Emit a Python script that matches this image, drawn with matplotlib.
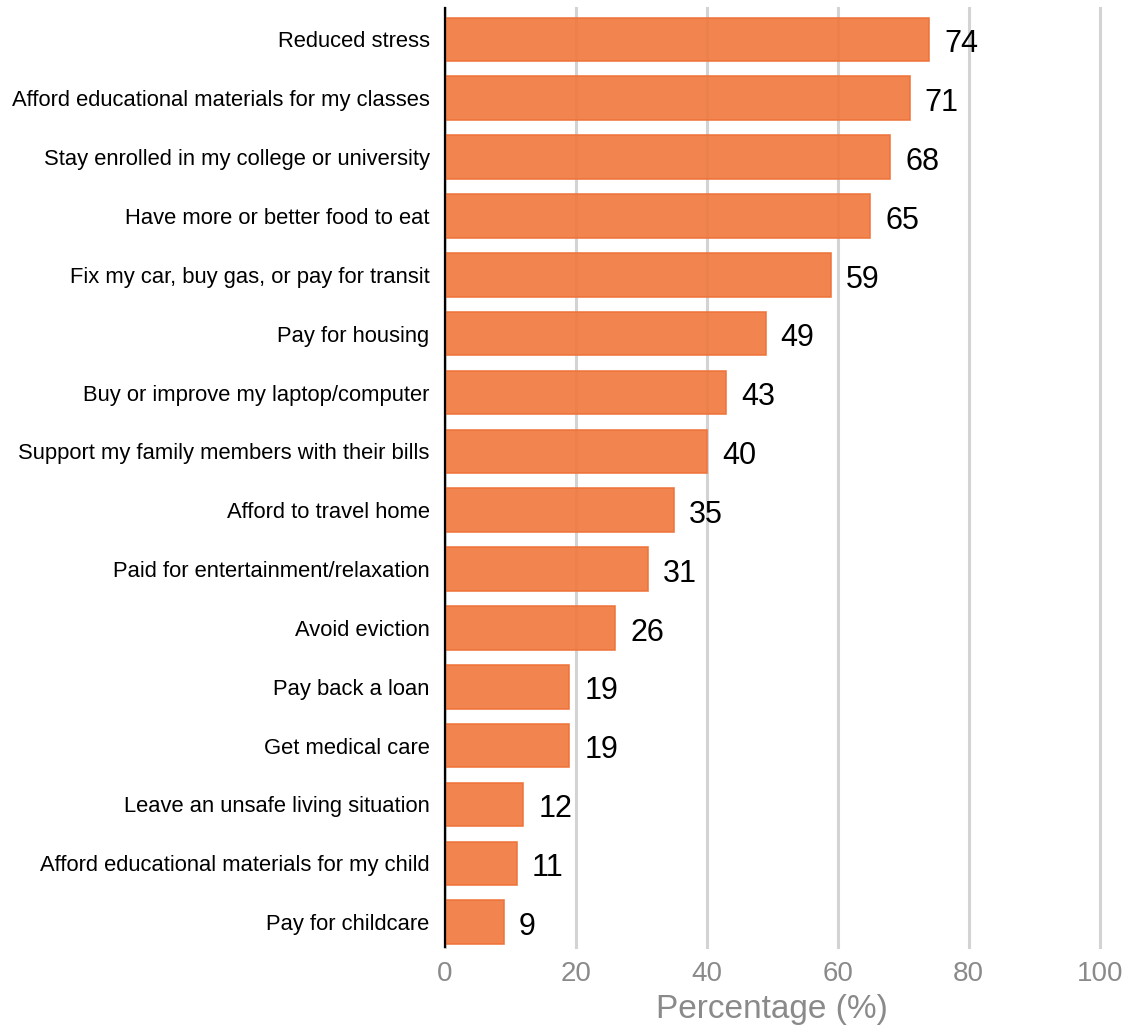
import matplotlib.pyplot as plt

plt.rcParams['font.family'] = ['Liberation Sans', 'DejaVu Sans']

reasons = [
    "Reduced stress",
    "Afford educational materials for my classes",
    "Stay enrolled in my college or university",
    "Have more or better food to eat",
    "Fix my car, buy gas, or pay for transit",
    "Pay for housing",
    "Buy or improve my laptop/computer",
    "Support my family members with their bills",
    "Afford to travel home",
    "Paid for entertainment/relaxation",
    "Avoid eviction",
    "Pay back a loan",
    "Get medical care",
    "Leave an unsafe living situation",
    "Afford educational materials for my child",
    "Pay for childcare",
]
percent = [74, 71, 68, 65, 59, 49, 43, 40, 35, 31, 26, 19, 19, 12, 11, 9]

fig = plt.figure(figsize=(11.29, 10.27), dpi=100)
ax = fig.add_axes([0.394, 0.078, 0.580, 0.914])

pos = list(range(len(reasons)))
ax.barh(pos, percent, height=0.74, color='#F07A40', alpha=0.92,
        edgecolor='#EE7338', linewidth=1.2, zorder=2)

for y, v in zip(pos, percent):
    ax.text(v + 2.3, y + 0.08, str(v), va='center', ha='left', fontsize=22, color='black')

ax.set_xlim(0, 100)
ax.set_ylim(15.42, -0.53)
ax.set_yticks(pos)
ax.set_yticklabels(reasons, fontsize=15.8)
ax.set_xticks([0, 20, 40, 60, 80, 100])
ax.tick_params(axis='x', labelsize=20, colors='#8a8a8a', length=0, pad=10)
ax.tick_params(axis='y', length=0, pad=11)
ax.xaxis.grid(True, color='#d3d3d3', linewidth=2.2, zorder=0)
for gl in ax.get_xgridlines():
    gl.set_clip_on(False)
ax.set_axisbelow(True)
for side in ['top', 'right', 'bottom']:
    ax.spines[side].set_visible(False)
ax.spines['left'].set_linewidth(1.6)
ax.spines['left'].set_zorder(3)
ax.set_xlabel("Percentage (%)", fontsize=24, color='#8a8a8a', labelpad=5)

fig.savefig('out.png', dpi=100)
